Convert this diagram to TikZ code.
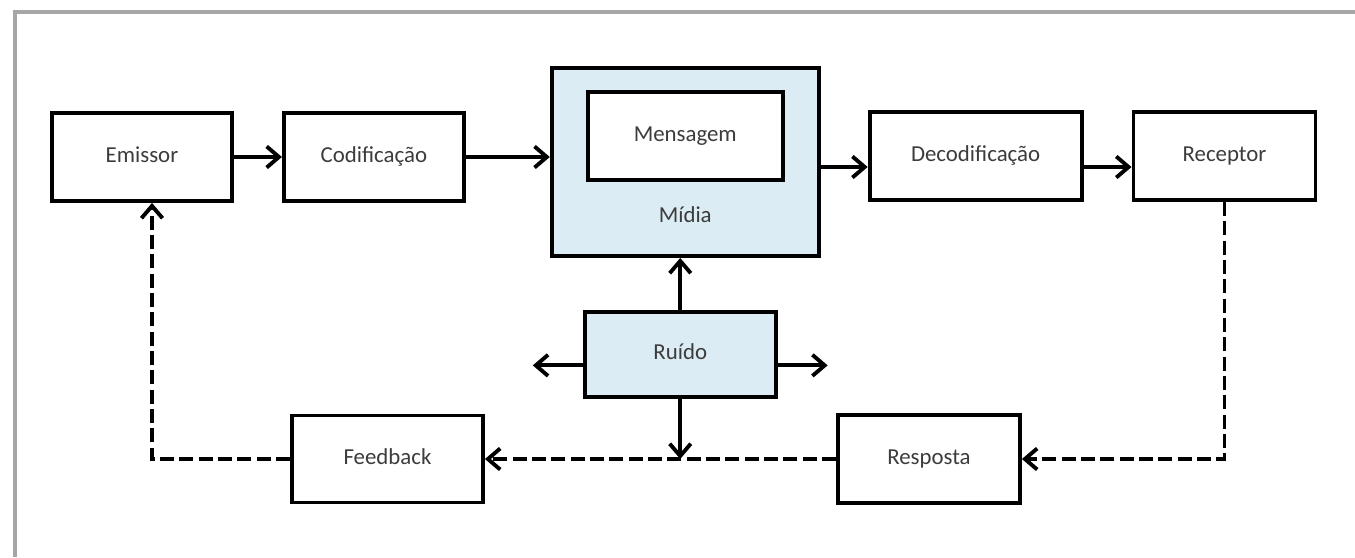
\documentclass[tikz,border=0pt]{standalone}
\usepackage{fontspec}
\setmainfont{Carlito}
\usepackage{xcolor}
\usepackage{tikz}
\usetikzlibrary{arrows.meta, positioning}
\definecolor{midiablue}{RGB}{220,236,244}
\definecolor{txtgray}{RGB}{60,60,60}
\tikzstyle{block} = [rectangle, minimum width=3.6cm, minimum height=1.76cm, text centered, text height=1.6ex, text depth=0.4ex, draw=black, line width=2.2pt, fill=white, text=txtgray, font=\fontsize{13}{15}\selectfont]
\tikzstyle{noise} = [block, fill=midiablue]
\tikzstyle{arrow} = [line width=2.2pt, -{Straight Barb[length=7pt,width=12pt]}]
\tikzstyle{dasharrow} = [arrow, dash pattern=on 8pt off 3pt]

\begin{document}
\begin{tikzpicture}
    \useasboundingbox (0,0) rectangle (27.1,-11.14);
    \draw [gray!70, line width=2.8pt] (0.3,-11.14) |- (27.1,-0.24);

    \node (emissor) [block] at (2.84,-3.14) {Emissor};
    \node (codif) [block, right=0.96cm of emissor] {Codificação};
    \node (midia) [noise, right=1.68cm of codif, yshift=-0.1cm, minimum width=5.34cm, minimum height=3.76cm] {};
    \node (msg) [block, below=0.48cm of midia.north, minimum width=3.9cm] {Mensagem};
    \node (midialbl) [text=txtgray, font=\fontsize{13}{15}\selectfont] at ([yshift=0.86cm]midia.south) {Mídia};
    \node (decod) [block, right=0.94cm of midia, yshift=0.12cm, minimum width=4.24cm] {Decodificação};
    \node (receptor) [block, right=0.96cm of decod, minimum width=3.64cm] {Receptor};
    \node (ruido) [noise, below=1.04cm of midia, xshift=-0.1cm, minimum width=3.82cm, minimum height=1.7cm] {Ruído};
    \node (feedback) [block, minimum width=3.82cm, minimum height=1.74cm] at (7.75,-9.18) {Feedback};
    \node (resposta) [block, minimum width=3.64cm] at (18.58,-9.18) {Resposta};

    \coordinate (mdout) at ([yshift=-0.1cm]midia.east);
    \coordinate (rleft) at ([shift={(-1cm,-0.22cm)}]ruido.west);
    \coordinate (rright) at ([shift={(1cm,-0.22cm)}]ruido.east);

    \draw [arrow] (emissor) -- (codif);
    \draw [arrow] (codif.east) -- (codif.east -| midia.west);
    \draw [arrow] (mdout) -- (mdout -| decod.west);
    \draw [arrow] ([yshift=-0.22cm]decod.east) -- ([yshift=-0.22cm]receptor.west);

    \draw [arrow] (ruido) -- (ruido |- midia.south);
    \draw [arrow] ([yshift=-0.22cm]ruido.west) -- (rleft);
    \draw [arrow] ([yshift=-0.22cm]ruido.east) -- (rright);
    \draw [arrow] (ruido) -- (ruido |- resposta.west);

    \draw [dasharrow] (receptor.south) |- (resposta.east);
    \draw [dasharrow] (resposta) -- (feedback);
    \draw [dasharrow] (feedback.west) -| ([xshift=0.2cm]emissor.south);
\end{tikzpicture}
\end{document}
